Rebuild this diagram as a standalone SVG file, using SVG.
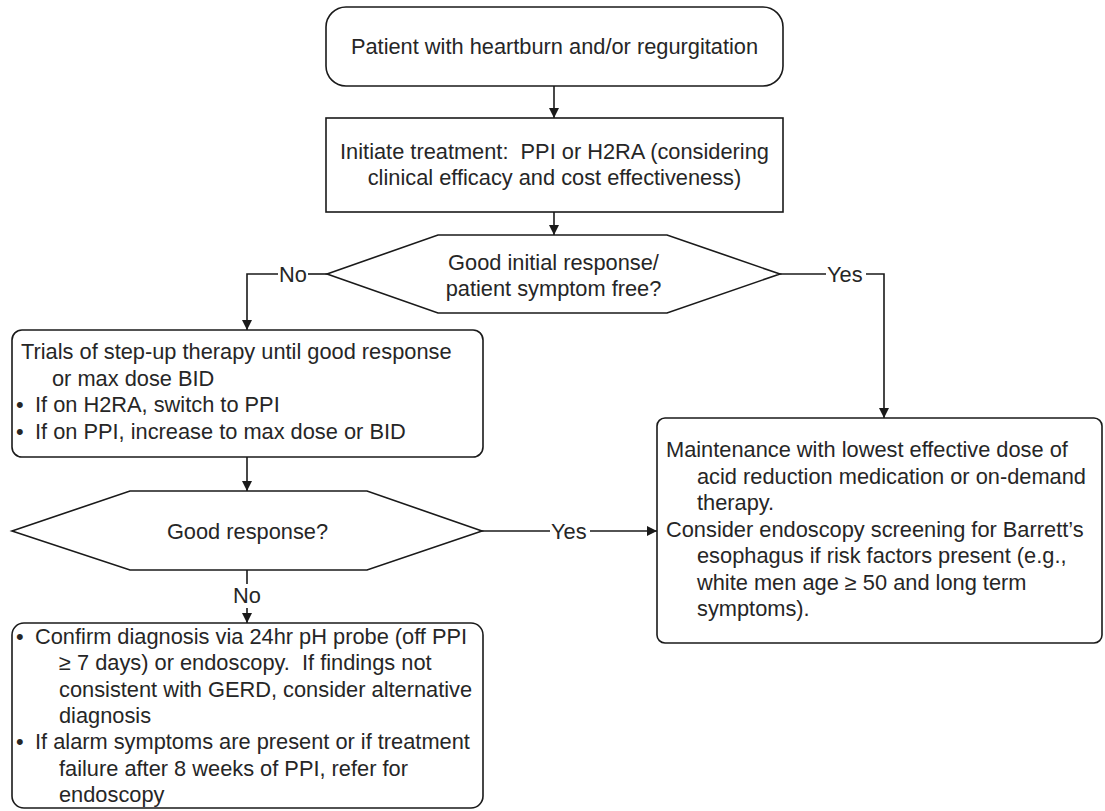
<svg xmlns="http://www.w3.org/2000/svg" width="1105" height="811" viewBox="0 0 1105 811">
<style>
  .bg { fill: #ffffff; }
  .box { fill: #ffffff; stroke: #1a1a1a; stroke-width: 1.6; }
  .t { font-family: "Liberation Sans", Arial, sans-serif; font-size: 21.8px; fill: #262626; white-space: pre; }
  .c { text-anchor: middle; }
  .ln { fill: none; stroke: #1a1a1a; stroke-width: 1.6; }
</style>
<defs>
  <marker id="ah" viewBox="0 0 10 10" refX="10" refY="5" markerWidth="11" markerHeight="10" markerUnits="userSpaceOnUse" orient="auto">
    <path d="M0,0 L10,5 L0,10 z" fill="#1a1a1a"/>
  </marker>
</defs>
<rect class="bg" x="0" y="0" width="1105" height="811"/>

<g id="connectors">
  <path class="ln" d="M554,86 V118" marker-end="url(#ah)"/>
  <path class="ln" d="M554,212 V235" marker-end="url(#ah)"/>
  <path class="ln" d="M327,274 H308"/>
  <path class="ln" d="M278,274 H247 V330" marker-end="url(#ah)"/>
  <text class="t" x="279" y="281.5">No</text>
  <path class="ln" d="M780,274 H826"/>
  <path class="ln" d="M866,274 H884 V418" marker-end="url(#ah)"/>
  <text class="t" x="827" y="281.5">Yes</text>
  <path class="ln" d="M247,457 V491" marker-end="url(#ah)"/>
  <path class="ln" d="M482,531 H550"/>
  <path class="ln" d="M590,531 H657" marker-end="url(#ah)"/>
  <text class="t" x="551" y="538.5">Yes</text>
  <path class="ln" d="M247,570 V584"/>
  <path class="ln" d="M247,608 V623" marker-end="url(#ah)"/>
  <text class="t c" x="247" y="603">No</text>
</g>

<g id="start">
  <rect class="box" x="326" y="7" width="457" height="79" rx="20" ry="20"/>
  <text class="t c" x="554.5" y="54">Patient with heartburn and/or regurgitation</text>
</g>

<g id="initiate">
  <rect class="box" x="326" y="118" width="457" height="94"/>
  <text class="t c" x="554.5" y="158.5">Initiate treatment:  PPI or H2RA (considering</text>
  <text class="t c" x="554.5" y="185">clinical efficacy and cost effectiveness)</text>
</g>

<g id="decision1">
  <polygon class="box" points="327,274 438,235 667,235 780,274 667,313 438,313"/>
  <text class="t c" x="553.5" y="269.5">Good initial response/</text>
  <text class="t c" x="553.5" y="295.5">patient symptom free?</text>
</g>

<g id="stepup">
  <rect class="box" x="12" y="330" width="471" height="127" rx="10" ry="10"/>
  <text class="t" x="21" y="359">Trials of step-up therapy until good response</text>
  <text class="t" x="52" y="385.5">or max dose BID</text>
  <text class="t" x="16" y="412">•</text>
  <text class="t" x="35" y="412">If on H2RA, switch to PPI</text>
  <text class="t" x="16" y="438.5">•</text>
  <text class="t" x="35" y="438.5">If on PPI, increase to max dose or BID</text>
</g>

<g id="decision2">
  <polygon class="box" points="12,531 130,491 367,491 482,531 367,570 130,570"/>
  <text class="t c" x="247.5" y="538.5">Good response?</text>
</g>

<g id="maintenance">
  <rect class="box" x="657" y="418" width="445" height="225" rx="8" ry="8"/>
  <text class="t" x="666" y="457">Maintenance with lowest effective dose of</text>
  <text class="t" x="697" y="483.5">acid reduction medication or on-demand</text>
  <text class="t" x="697" y="510">therapy.</text>
  <text class="t" x="666" y="536.5">Consider endoscopy screening for Barrett’s</text>
  <text class="t" x="697" y="563">esophagus if risk factors present (e.g.,</text>
  <text class="t" x="697" y="589.5">white men age ≥ 50 and long term</text>
  <text class="t" x="697" y="616">symptoms).</text>
</g>

<g id="confirm">
  <rect class="box" x="12" y="623" width="471" height="185" rx="12" ry="12"/>
  <text class="t" x="16" y="644">•</text>
  <text class="t" x="35" y="644">Confirm diagnosis via 24hr pH probe (off PPI</text>
  <text class="t" x="59" y="670.3">≥ 7 days) or endoscopy.  If findings not</text>
  <text class="t" x="59" y="696.6">consistent with GERD, consider alternative</text>
  <text class="t" x="59" y="722.9">diagnosis</text>
  <text class="t" x="16" y="749.2">•</text>
  <text class="t" x="35" y="749.2">If alarm symptoms are present or if treatment</text>
  <text class="t" x="59" y="775.5">failure after 8 weeks of PPI, refer for</text>
  <text class="t" x="59" y="801.8">endoscopy</text>
</g>
</svg>
